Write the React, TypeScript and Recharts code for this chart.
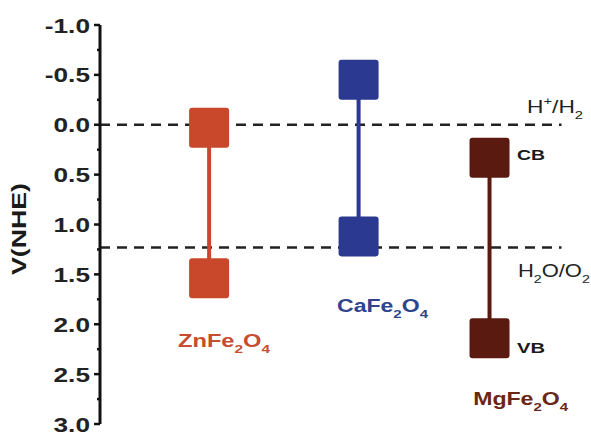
import React from "react";
import {
  ComposedChart,
  Scatter,
  XAxis,
  YAxis,
  ReferenceLine,
  ReferenceDot,
} from "recharts";

// band edges (V vs NHE): [CB, VB]
const materials = ["ZnFe2O4", "CaFe2O4", "MgFe2O4"];
const materialX = [1, 2.37, 3.57];
const cbValues = [0.03, -0.45, 0.33];
const vbValues = [1.54, 1.12, 2.14];
const colors = ["#c9472b", "#2b3990", "#5b1a10"];
const textColors = ["#c64d2f", "#2d458c", "#6a2616"];

const yTicks = [
  -1, -0.75, -0.5, -0.25, 0, 0.25, 0.5, 0.75, 1, 1.25, 1.5, 1.75, 2, 2.25,
  2.5, 2.75, 3,
];
const redoxLevels = [0, 1.23];
const FONT = "'Liberation Sans', Arial, sans-serif";

const Square = (props: any) => {
  const { cx, cy, fill } = props;
  if (cx == null || cy == null) return null;
  return <rect x={cx - 20} y={cy - 20} width={40} height={40} rx={3} fill={fill} />;
};

const renderTick = (props: any) => {
  const { x, y, payload } = props;
  const v = payload.value;
  const major = Math.abs(v * 2 - Math.round(v * 2)) < 1e-6;
  return (
    <g>
      <line x1={x - (major ? 6 : 3)} x2={x} y1={y} y2={y} stroke="#111" strokeWidth={2.5} />
      {major && (
        <text
          transform={`translate(${x - 10},${y}) scale(1.25,1)`}
          textAnchor="end"
          dy="0.36em"
          fontFamily={FONT}
          fontWeight="bold"
          fontSize={21}
          fill="#222"
        >
          {v.toFixed(1)}
        </text>
      )}
    </g>
  );
};

// a formula with subscripts, e.g. ["ZnFe", "2", "O", "4"]
const Formula = ({ cx, cy, parts, fill, len, weight, size }: any) => (
  <text
    x={cx}
    y={cy}
    fontFamily={FONT}
    fontWeight={weight}
    fontSize={size}
    fill={fill}
    textLength={len}
    lengthAdjust="spacingAndGlyphs"
  >
    {parts.map((p: any, i: number) => (
      <tspan key={i} fontSize={p.sub || p.sup ? size * 0.65 : size} dy={p.dy}>
        {p.t}
      </tspan>
    ))}
  </text>
);

const formulaParts = (name: string) => {
  const m = name.match(/^([A-Za-z]+)(\d)([A-Z])(\d)$/);
  if (!m) return [{ t: name, dy: 0 }];
  return [
    { t: m[1], dy: 0 },
    { t: m[2], dy: 6, sub: true },
    { t: m[3], dy: -6 },
    { t: m[4], dy: 6, sub: true },
  ];
};

// label anchors in data units
const nameLabelPos = [
  { x: 0.715, y: 2.23 },
  { x: 2.172, y: 1.88 },
  { x: 3.42, y: 2.81 },
];
const nameLabelLen = [92, 91, 95];

export default function App() {
  const seriesData = materials.map((_, i) => [
    { x: materialX[i], v: cbValues[i] },
    { x: materialX[i], v: vbValues[i] },
  ]);

  return (
    <div style={{ position: "absolute", left: 0, top: 0, background: "#fff" }}>
      <ComposedChart
        width={591}
        height={432}
        margin={{ top: 25, right: 0, bottom: 8, left: 0 }}
      >
        <XAxis type="number" dataKey="x" domain={[0, 4.5]} hide />
        <YAxis
          type="number"
          dataKey="v"
          domain={[-1, 3]}
          reversed
          ticks={yTicks}
          interval={0}
          width={100}
          tickSize={0}
          tickMargin={0}
          tickLine={false}
          axisLine={{ stroke: "#111", strokeWidth: 3 }}
          tick={renderTick}
          allowDataOverflow
        />
        {redoxLevels.map((lv) => (
          <ReferenceLine
            key={lv}
            segment={[
              { x: 0, y: lv },
              { x: 4.23, y: lv },
            ]}
            stroke="#222"
            strokeWidth={2.5}
            strokeDasharray="10 7"
          />
        ))}
        {seriesData.map((d, i) => (
          <Scatter
            key={materials[i]}
            data={d}
            dataKey="v"
            fill={colors[i]}
            line={{ stroke: colors[i], strokeWidth: 4 }}
            shape={<Square fill={colors[i]} />}
            isAnimationActive={false}
          />
        ))}
        {materials.map((m, i) => (
          <ReferenceDot
            key={"lbl" + m}
            x={nameLabelPos[i].x}
            y={nameLabelPos[i].y}
            r={0}
            shape={(p: any) => (
              <Formula
                cx={p.cx}
                cy={p.cy}
                parts={formulaParts(m)}
                fill={textColors[i]}
                len={nameLabelLen[i]}
                weight="bold"
                size={18}
              />
            )}
          />
        ))}
        <ReferenceDot
          x={3.822}
          y={0.353}
          r={0}
          shape={(p: any) => (
            <Formula cx={p.cx} cy={p.cy} parts={[{ t: "CB", dy: 0 }]} fill="#1a1a1a" len={28} weight="bold" size={15} />
          )}
        />
        <ReferenceDot
          x={3.822}
          y={2.29}
          r={0}
          shape={(p: any) => (
            <Formula cx={p.cx} cy={p.cy} parts={[{ t: "VB", dy: 0 }]} fill="#1a1a1a" len={28} weight="bold" size={15} />
          )}
        />
        <ReferenceDot
          x={3.914}
          y={-0.118}
          r={0}
          shape={(p: any) => (
            <Formula
              cx={p.cx}
              cy={p.cy}
              parts={[
                { t: "H", dy: 0 },
                { t: "+", dy: -8, sup: true },
                { t: "/H", dy: 8 },
                { t: "2", dy: 6, sub: true },
              ]}
              fill="#222"
              len={56}
              weight="normal"
              size={18}
            />
          )}
        />
        <ReferenceDot
          x={3.83}
          y={1.526}
          r={0}
          shape={(p: any) => (
            <Formula
              cx={p.cx}
              cy={p.cy}
              parts={[
                { t: "H", dy: 0 },
                { t: "2", dy: 6, sub: true },
                { t: "O/O", dy: -6 },
                { t: "2", dy: 6, sub: true },
              ]}
              fill="#222"
              len={72}
              weight="normal"
              size={18}
            />
          )}
        />
        <text
          transform="translate(26,229) rotate(-90)"
          textAnchor="middle"
          fontFamily={FONT}
          fontWeight="bold"
          fontSize={20}
          fill="#1a1a1a"
          textLength={92}
          lengthAdjust="spacingAndGlyphs"
        >
          V(NHE)
        </text>
      </ComposedChart>
    </div>
  );
}
